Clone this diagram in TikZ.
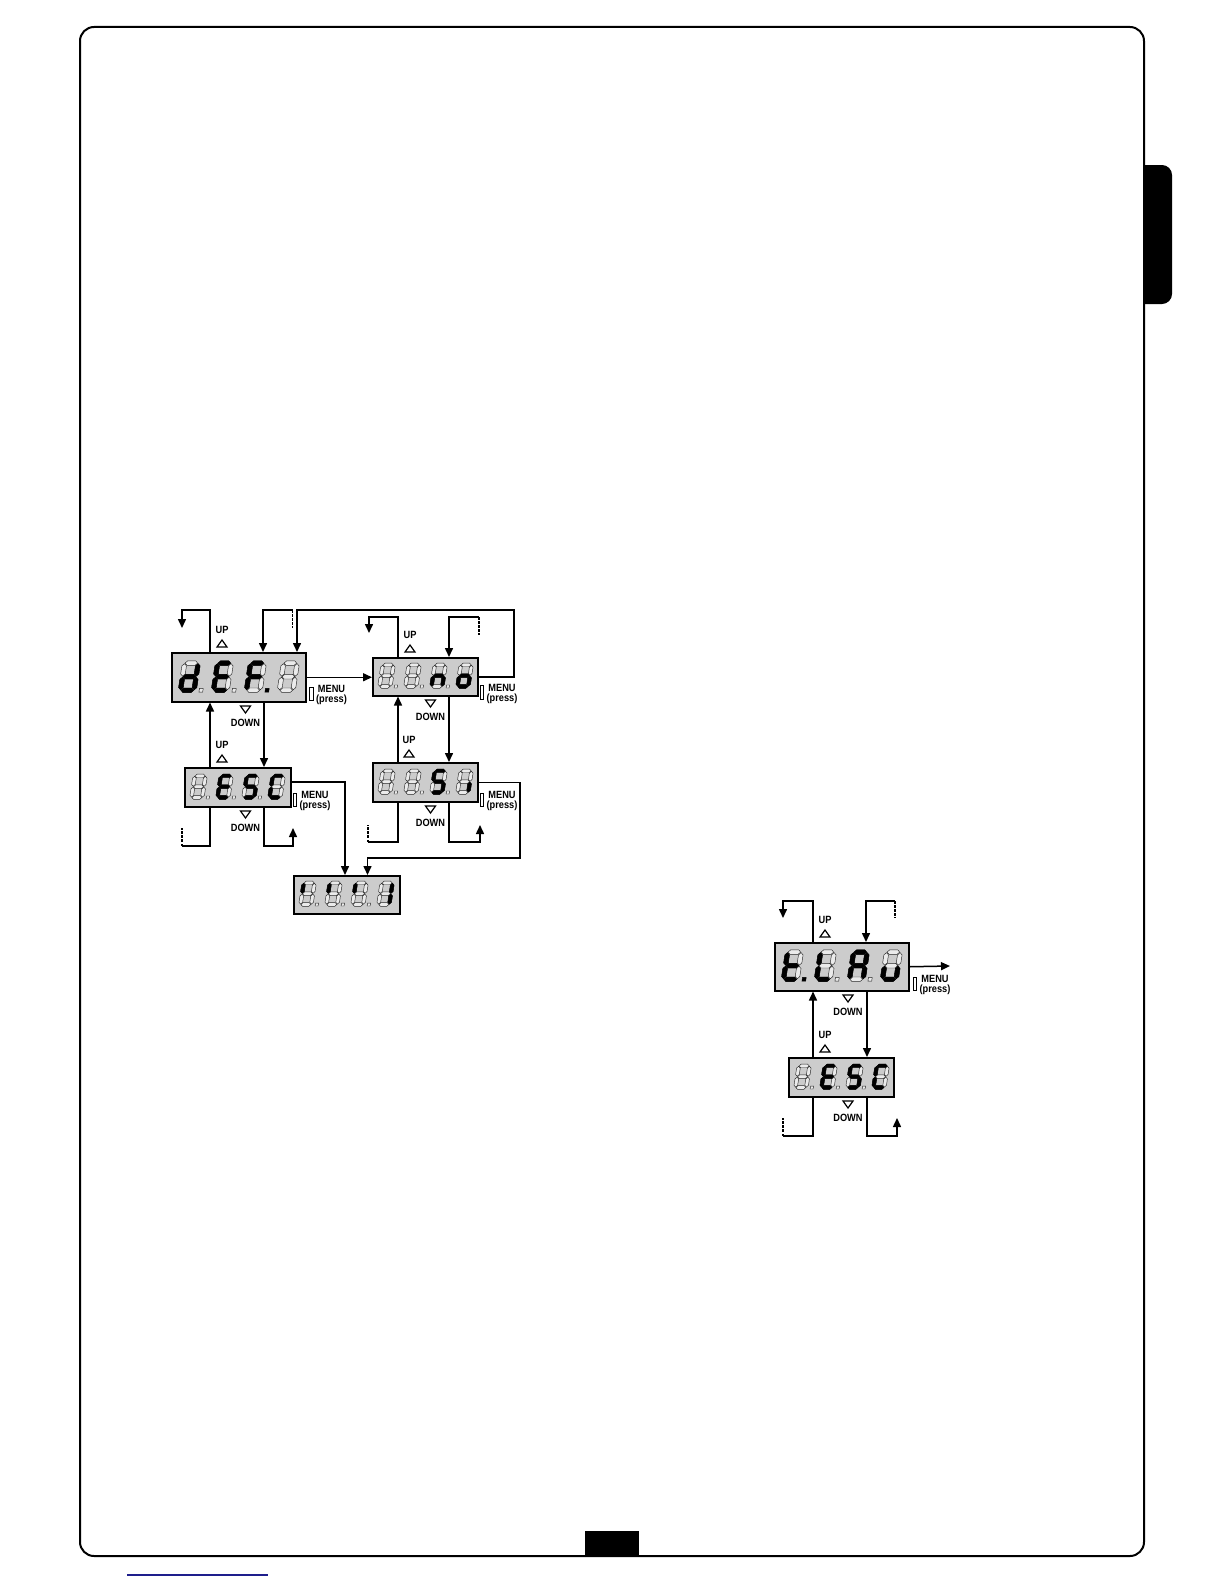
\documentclass[tikz,border=0pt]{standalone}
\usepackage{fontspec}
\setmainfont{Liberation Sans}
\newfontfamily\labfont{Liberation Sans}[FakeStretch=0.88]
\usetikzlibrary{arrows.meta}
\definecolor{boxgray}{gray}{0.80}
\definecolor{segdim}{gray}{0.92}
\definecolor{linkblue}{RGB}{30,30,140}
% seven-segment helpers (local units: digit 8 wide, 16 high)
\newcommand\mkhseg[2]{\path[#1] (0.3,#2) -- (1.65,#2+1.35) -- (6.35,#2+1.35) -- (7.7,#2) -- (6.35,#2-1.35) -- (1.65,#2-1.35) -- cycle;}
\newcommand\mkvseg[3]{\path[#1] (#2,#3+0.3) -- (#2+1.35,#3+1.65) -- (#2+1.35,#3+6.35) -- (#2,#3+7.7) -- (#2-1.35,#3+6.35) -- (#2-1.35,#3+1.65) -- cycle;}
\newcommand\segpa[1]{\mkhseg{#1}{16}}
\newcommand\segpg[1]{\mkhseg{#1}{8}}
\newcommand\segpd[1]{\mkhseg{#1}{0}}
\newcommand\segpf[1]{\mkvseg{#1}{0}{8}}
\newcommand\segpe[1]{\mkvseg{#1}{0}{0}}
\newcommand\segpb[1]{\mkvseg{#1}{8}{8}}
\newcommand\segpc[1]{\mkvseg{#1}{8}{0}}
\newcommand\segpz[1]{}
\newcommand\segpp[1]{\path[#1] (11,-1.1) rectangle (13.2,1.1);}
\newcommand\sdigit[4]{%
  \begin{scope}[shift={#1}, x=#2pt, y=#2pt, xslant=0.15]
    \foreach \segn in {a,b,c,d,e,f,g}{\csname segp\segn\endcsname{segoff}}
    \foreach \segn in {#3}{\csname segp\segn\endcsname{segon}}
    \segpp{#4}
  \end{scope}}
\newcommand\upmark[3]{%
  \node[lab] (#1) at (#2,#3-22) {UP};
  \draw[tri] (#2-5,#3-5) -- (#2,#3-12) -- (#2+5,#3-5) -- cycle;}
\newcommand\dnmark[3]{%
  \draw[tri] (#2-5,#3+5) -- (#2,#3+12) -- (#2+5,#3+5) -- cycle;
  \node[lab] (#1) at (#2,#3+22) {DOWN};}
\newcommand\menumark[3]{%
  \draw[line width=1pt] (#2,#3) rectangle (#2+3.5,#3+13.5);
  \node[menu] (#1) at (#2+22,#3-1.5) {MENU\\(press)};}
\begin{document}
\begin{tikzpicture}[x=1pt,y=-1pt,
  conn/.style={line width=1.5pt, line join=miter},
  arr/.style={conn, -{Triangle[length=9pt,width=8pt]}},
  stub/.style={line width=1.5pt, dash pattern=on 2.5pt off 1.6pt},
  lbox/.style={draw, line width=1.5pt, fill=boxgray, inner sep=0pt, anchor=north west},
  tri/.style={draw, line width=1.2pt, line join=miter},
  lab/.style={font=\labfont\bfseries\fontsize{10.5}{10.5}\selectfont, inner sep=0pt},
  menu/.style={font=\labfont\bfseries\fontsize{10.5}{9.6}\selectfont, inner sep=0pt, align=center, anchor=north},
  segon/.style={fill=black, draw=black, line width=0.4pt},
  segoff/.style={fill=segdim, draw=black!85, line width=0.45pt},
  nodot/.style={}]
\useasboundingbox (0,0) rectangle (1224,1584);

% page frame
\begin{scope}
  \clip (1144,150) rectangle (1200,320);
  \fill[rounded corners=10pt] (1120,165) rectangle (1172,304);
\end{scope}
\fill (585,1531) rectangle (639,1556);
\draw[line width=2pt, rounded corners=14pt] (80,27) rectangle (1144,1556);
\draw[line width=1.3pt, linkblue] (127,1575) -- (268,1575);

% ---------- left diagram: boxes ----------
\node[lbox, minimum width=134pt, minimum height=49pt] (A) at (171,652) {};
\node[lbox, minimum width=106pt, minimum height=39pt] (B) at (184,767) {};
\node[lbox, minimum width=105pt, minimum height=38pt] (C) at (372,657) {};
\node[lbox, minimum width=105pt, minimum height=39pt] (S) at (372,762) {};
\node[lbox, minimum width=106pt, minimum height=38pt] (D) at (293,875) {};

% digits
\sdigit{(180.5,690.3)}{1.7}{b,c,d,e,g}{segoff}
\sdigit{(213.5,690.3)}{1.7}{a,d,e,f,g}{segoff}
\sdigit{(246.5,690.3)}{1.7}{a,e,f,g}{segon}
\sdigit{(279.5,690.3)}{1.7}{z}{nodot}

\sdigit{(191.5,797.5)}{1.35}{z}{segoff}
\sdigit{(217.5,797.5)}{1.35}{a,d,e,f,g}{segoff}
\sdigit{(243.5,797.5)}{1.35}{a,c,d,f,g}{segoff}
\sdigit{(269.5,797.5)}{1.35}{a,d,e,f}{nodot}

\sdigit{(379.5,686.5)}{1.35}{z}{segoff}
\sdigit{(405.5,686.5)}{1.35}{z}{segoff}
\sdigit{(431.5,686.5)}{1.35}{c,e,g}{segoff}
\sdigit{(457.5,686.5)}{1.35}{c,d,e,g}{nodot}

\sdigit{(379.5,792.5)}{1.35}{z}{segoff}
\sdigit{(405.5,792.5)}{1.35}{z}{segoff}
\sdigit{(431.5,792.5)}{1.35}{a,c,d,f,g}{segoff}
\sdigit{(457.5,792.5)}{1.35}{c}{nodot}

\sdigit{(300.5,904.5)}{1.35}{f}{segoff}
\sdigit{(326.5,904.5)}{1.35}{f}{segoff}
\sdigit{(352.5,904.5)}{1.35}{f}{segoff}
\sdigit{(378.5,904.5)}{1.35}{b,c}{nodot}

% labels
\upmark{uA}{222}{652}
\dnmark{dA}{245.5}{701}
\upmark{uB}{222}{767}
\dnmark{dB}{245.5}{806}
\upmark{uC}{410}{657}
\dnmark{dC}{430.5}{695}
\upmark{uS}{409}{762}
\dnmark{dS}{430.5}{801}
\menumark{mA}{309.5}{687}
\menumark{mB}{293}{793}
\menumark{mC}{480}{685.5}
\menumark{mS}{480}{793}

% connectors
\coordinate (xU1) at (210,0);
\coordinate (xD1) at (264,0);
\coordinate (xU2) at (398,0);
\coordinate (xD2) at (449,0);

\coordinate (aUpT) at (210,610);
\coordinate (aUpE) at (182,628);
\draw[arr] (A.north -| aUpT) -- (aUpT) -| (aUpE);
\coordinate (aIn) at (263,610);
\coordinate (aDash) at (292.5,628);
\draw[stub] (aDash |- aIn) -- (aDash);
\draw[arr] (aDash |- aIn) -| (aIn |- A.north);
\coordinate (cLoop) at (514,610);
\coordinate (aIn2) at (297,610);
\draw[arr] (C.east) -| (cLoop) -- (aIn2) -- (aIn2 |- A.north);
\draw[arr] (A.east) -- (A.east -| C.west);

\draw[arr] (A.south -| xD1) -- (B.north -| xD1);
\draw[arr] (B.north -| xU1) -- (A.south -| xU1);

\coordinate (bMenu) at (345,782);
\draw[arr] (bMenu -| B.east) -- (bMenu) -- (bMenu |- D.north);
\coordinate (bL) at (182,846);
\coordinate (bLe) at (182,828);
\draw[conn] (B.south -| xU1) |- (bL);
\draw[stub] (bL) -- (bLe);
\coordinate (bR) at (293,846);
\coordinate (bRe) at (293,828);
\draw[arr] (B.south -| xD1) |- (bR) -- (bRe);

\coordinate (cUpT) at (398,617);
\coordinate (cUpE) at (369,633);
\draw[arr] (C.north -| xU2) -- (cUpT) -| (cUpE);
\coordinate (cIn) at (449,617);
\coordinate (cDash) at (479,635);
\draw[stub] (cDash |- cIn) -- (cDash);
\draw[arr] (cDash |- cIn) -| (cIn |- C.north);
\draw[arr] (C.south -| xD2) -- (S.north -| xD2);
\draw[arr] (S.north -| xU2) -- (C.south -| xU2);

\coordinate (sLoop) at (520,858);
\coordinate (dIn2) at (367.5,858);
\draw[arr] (S.east) -| (sLoop) -- (dIn2) -- (dIn2 |- D.north);
\coordinate (sL) at (368,842);
\coordinate (sLe) at (368,825);
\draw[conn] (S.south -| xU2) |- (sL);
\draw[stub] (sL) -- (sLe);
\coordinate (sR) at (480,842);
\coordinate (sRe) at (480,825);
\draw[arr] (S.south -| xD2) |- (sR) -- (sRe);

% ---------- right diagram ----------
\node[lbox, minimum width=134pt, minimum height=48pt] (E) at (774,942) {};
\node[lbox, minimum width=105pt, minimum height=39pt] (F) at (788,1057) {};

\sdigit{(783.5,979.3)}{1.7}{d,e,f,g}{segon}
\sdigit{(816.5,979.3)}{1.7}{d,e,f}{segoff}
\sdigit{(849.5,979.3)}{1.7}{a,b,c,e,f,g}{segoff}
\sdigit{(882.5,979.3)}{1.7}{c,d,e}{nodot}

\sdigit{(795.5,1087.5)}{1.35}{z}{segoff}
\sdigit{(821.5,1087.5)}{1.35}{a,d,e,f,g}{segoff}
\sdigit{(847.5,1087.5)}{1.35}{a,c,d,f,g}{segoff}
\sdigit{(873.5,1087.5)}{1.35}{a,d,e,f}{nodot}

\upmark{uE}{825}{942}
\dnmark{dE}{848}{990}
\upmark{uF}{825}{1057}
\dnmark{dF}{848}{1096}
\menumark{mE}{913}{977}

\coordinate (xU3) at (813,0);
\coordinate (xD3) at (867,0);
\coordinate (eUpT) at (813,901);
\coordinate (eUpE) at (783,918);
\draw[arr] (E.north -| eUpT) -- (eUpT) -| (eUpE);
\coordinate (eIn) at (866,901);
\coordinate (eDash) at (895,918);
\draw[stub] (eDash |- eIn) -- (eDash);
\draw[arr] (eDash |- eIn) -| (eIn |- E.north);
\coordinate (eOut) at (950,966);
\draw[arr] (E.east) -- (eOut);
\draw[arr] (E.south -| xD3) -- (F.north -| xD3);
\draw[arr] (F.north -| xU3) -- (E.south -| xU3);
\coordinate (fL) at (783,1136);
\coordinate (fLe) at (783,1118);
\draw[conn] (F.south -| xU3) |- (fL);
\draw[stub] (fL) -- (fLe);
\coordinate (fR) at (897,1136);
\coordinate (fRe) at (897,1118);
\draw[arr] (F.south -| xD3) |- (fR) -- (fRe);
\end{tikzpicture}
\end{document}
